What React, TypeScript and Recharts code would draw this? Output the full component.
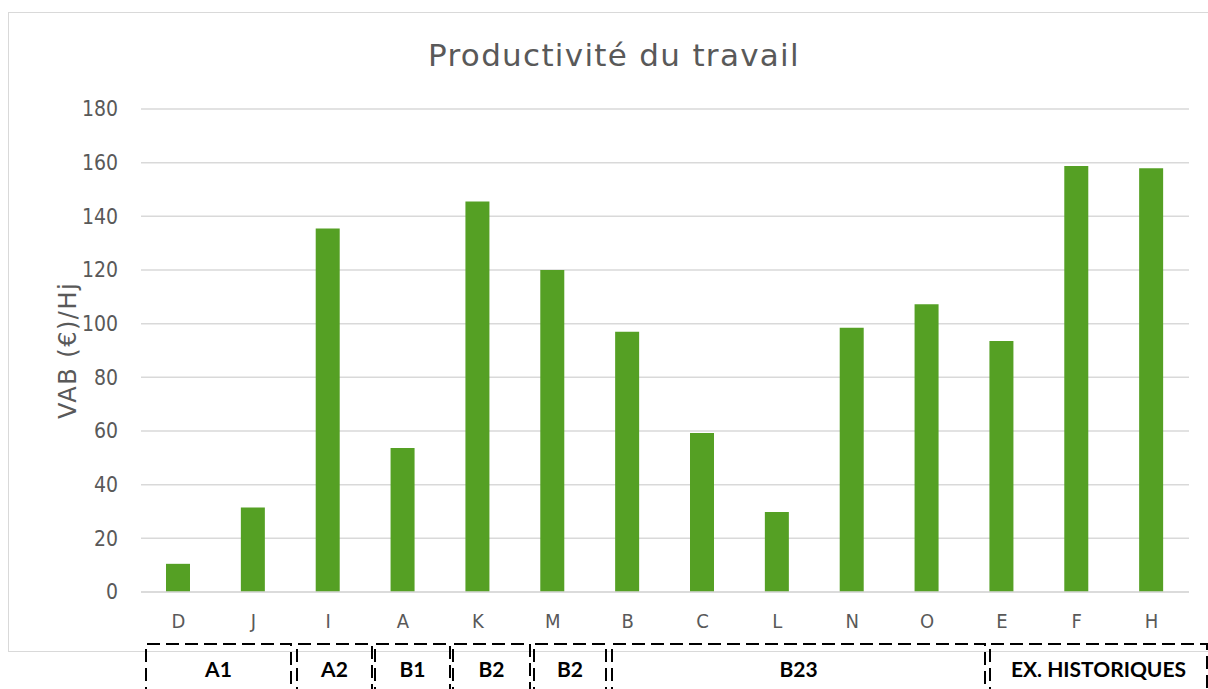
import { BarChart, Bar, XAxis, YAxis, CartesianGrid } from "recharts";

const categories = ["D", "J", "I", "A", "K", "M", "B", "C", "L", "N", "O", "E", "F", "H"];
const productivite = [10.5, 31.5, 135.5, 53.7, 145.5, 120, 97, 59.3, 29.8, 98.5, 107.2, 93.5, 158.8, 157.9];
const yTicks = [0, 20, 40, 60, 80, 100, 120, 140, 160, 180];

const groupLabels = ["A1", "A2", "B1", "B2", "B2", "B23", "EX. HISTORIQUES"];
// left / right edge of each dashed box, in page pixels
const groupEdges = [
  [146, 291],
  [297, 372],
  [375, 450],
  [453, 530],
  [534, 606],
  [612, 985],
  [990, 1207],
];

const TEXT = "#595959";
const FONT = "'DejaVu Sans Condensed', 'DejaVu Sans', sans-serif";
const WIDE_FONT = "'DejaVu Sans', sans-serif";
const BOLD_FONT = "Lato, 'Open Sans', sans-serif";

export default function App() {
  const data = categories.map((cat, i) => ({ cat, value: productivite[i] }));

  return (
    <div
      style={{
        position: "absolute",
        left: 0,
        top: 0,
        width: 1208,
        height: 689,
        overflow: "hidden",
        background: "#fff",
        fontFamily: FONT,
      }}
    >
      {/* chart frame */}
      <div
        style={{
          position: "absolute",
          left: 8,
          top: 12,
          width: 1240,
          height: 638,
          border: "1.5px solid #d9d9d9",
        }}
      />

      <svg
        width={1208}
        height={689}
        style={{ position: "absolute", left: 0, top: 0, pointerEvents: "none" }}
      >
        <text
          x={614}
          y={66}
          textAnchor="middle"
          fontSize={31}
          letterSpacing={1.3}
          fontFamily={WIDE_FONT}
          fill={TEXT}
        >
          Productivité du travail
        </text>
      </svg>

      <div style={{ position: "absolute", left: 0, top: 0 }}>
        <BarChart
          width={1208}
          height={689}
          data={data}
          margin={{ top: 109, right: 19, bottom: 57, left: 41 }}
          barCategoryGap={0}
        >
          <CartesianGrid vertical={false} stroke="#d9d9d9" strokeWidth={1.5} />
          <XAxis
            dataKey="cat"
            height={40}
            axisLine={{ stroke: "#d9d9d9", strokeWidth: 1.5 }}
            tickLine={false}
            tickSize={0}
            tickMargin={22}
            tick={{ fill: TEXT, fontSize: 20, fontFamily: FONT }}
          />
          <YAxis
            width={100}
            domain={[0, 180]}
            ticks={yTicks}
            axisLine={false}
            tickLine={false}
            tickSize={0}
            tickMargin={23}
            tick={{ fill: TEXT, fontSize: 21, fontFamily: FONT }}
            label={{
              value: "VAB (€)/Hj",
              angle: -90,
              position: "insideLeft",
              offset: 26,
              style: { textAnchor: "middle", fill: TEXT, fontSize: 24, letterSpacing: 1.5, fontFamily: WIDE_FONT },
            }}
          />
          <Bar dataKey="value" fill="#55A024" barSize={24} isAnimationActive={false} />
        </BarChart>
      </div>

      <svg
        width={1208}
        height={689}
        style={{ position: "absolute", left: 0, top: 0, pointerEvents: "none" }}
      >
        {groupLabels.map((label, i) => {
          const [x0, x1] = groupEdges[i];
          return (
            <g key={i}>
              <path
                d={`M${x0},700 L${x0},644 L${x1},644 L${x1},700`}
                fill="none"
                stroke="#000"
                strokeWidth={2}
                strokeDasharray="13 6"
              />
              <text
                x={(x0 + x1) / 2}
                y={677}
                textAnchor="middle"
                fontSize={21}
                fontWeight={700}
                fontFamily={BOLD_FONT}
                fill="#000"
              >
                {label}
              </text>
            </g>
          );
        })}
      </svg>
    </div>
  );
}
